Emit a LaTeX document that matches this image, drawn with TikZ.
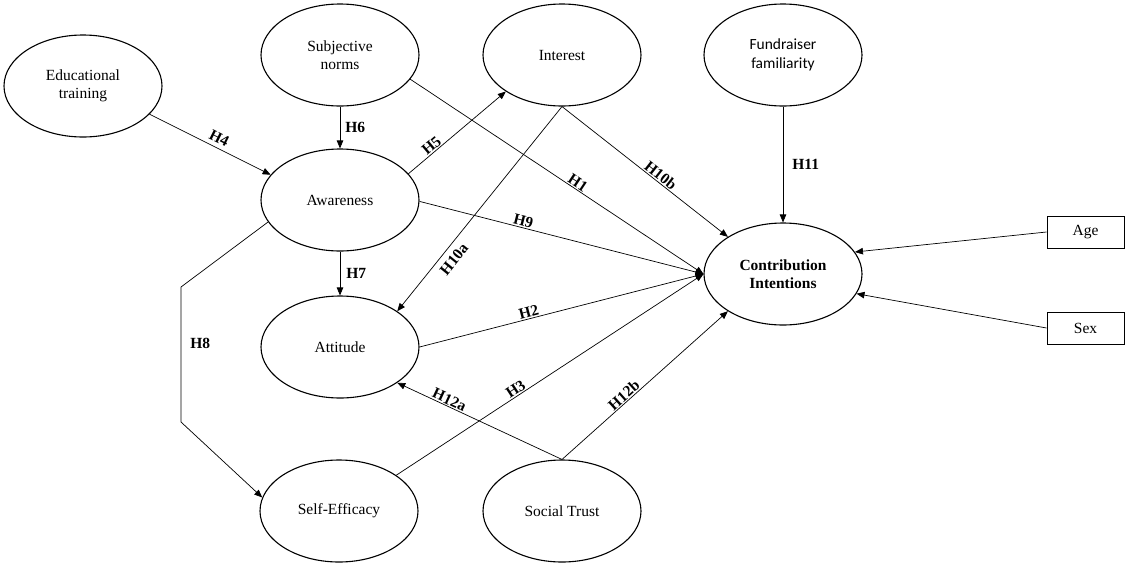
\documentclass[tikz,border=0pt]{standalone}
\usepackage{fontspec}
\setmainfont{Liberation Serif}
\newfontfamily\calibrifont{Carlito}
\usetikzlibrary{shapes.geometric,arrows.meta}
\begin{document}
\begin{tikzpicture}[x=1pt,y=-1pt,
  var/.style={ellipse, draw, line width=1.1pt, minimum width=158pt, minimum height=102pt, inner sep=0pt, align=center, font=\fontsize{15.5}{18.5}\selectfont},
  ctrl/.style={rectangle, draw, line width=1pt, minimum width=77pt, minimum height=32pt, inner sep=0pt, font=\fontsize{15.5}{18.5}\selectfont},
  conn/.style={line width=0.7pt, -{Triangle[length=8pt,width=6.5pt]}},
  hl/.style={font=\fontsize{15.5}{18}\selectfont\bfseries, inner sep=1pt},
]
\useasboundingbox (0,0) rectangle (1125,563);

\node[var] (edu) at (83,86) {Educational\\training};
\node[var] (sn) at (340,55) {Subjective\\norms};
\node[var] (int) at (562,55) {Interest};
\node[var, font=\calibrifont\fontsize{15.5}{19}\selectfont] (fam) at (783,55) {Fundraiser\\familiarity};
\node[var] (aw) at (340,200) {Awareness};
\node[var, font=\fontsize{15.5}{18}\selectfont\bfseries] (ci) at (783,274) {Contribution\\Intentions};
\node[var] (att) at (340,347) {Attitude};
\node[var] (se) at (339,511) {Self-Efficacy};
\node[var] (st) at (562,511) {Social Trust};
\node[ctrl] (age) at (1085.5,232) {Age};
\node[ctrl] (sex) at (1085.5,328) {Sex};

\draw[conn] (edu.-23) -- node[hl, sloped, pos=0.54, above=3pt] {H4} (aw.160);
\draw[conn] (sn.south) -- node[hl, right=4pt, pos=0.5] {H6} (aw.north);
\draw[conn] (aw.21) -- node[hl, sloped, pos=0.28, above=0pt] {H5} (int.213);
\draw[conn] (sn.-19) -- node[hl, sloped, pos=0.56, above] {H1} (ci.west);
\draw[conn] (aw.-1) -- node[hl, sloped, pos=0.36, above] {H9} (ci.west);
\draw[conn] (int.south) -- node[hl, sloped, pos=0.57, above=0pt] {H10b} (ci.146);
\draw[conn] (int.south) -- node[hl, sloped, pos=0.71, below=5pt] {H10a} (att.32);
\draw[conn] (fam.south) -- node[hl, right=8pt, pos=0.5] {H11} (ci.north);
\draw[conn] (age.west) -- (ci.17);
\draw[conn] (sex.west) -- (ci.-15);
\draw[conn] (aw.south) -- node[hl, right=5pt, pos=0.5] {H7} (att.north);
\coordinate (h8a) at (181,287);
\coordinate (h8b) at (181,422);
\draw[conn] (aw.197) -- (h8a) -- node[hl, right=8pt, pos=0.42] {H8} (h8b) -- (se.170);
\draw[conn] (att.east) -- node[hl, sloped, pos=0.39, above] {H2} (ci.west);
\draw[conn] (se.32) -- node[hl, sloped, pos=0.4, above] {H3} (ci.west);
\draw[conn] (st.north) -- node[hl, sloped, pos=0.7, above] {H12a} (att.-32);
\draw[conn] (st.north) -- node[hl, sloped, pos=0.4, above] {H12b} (ci.214);
\end{tikzpicture}
\end{document}
